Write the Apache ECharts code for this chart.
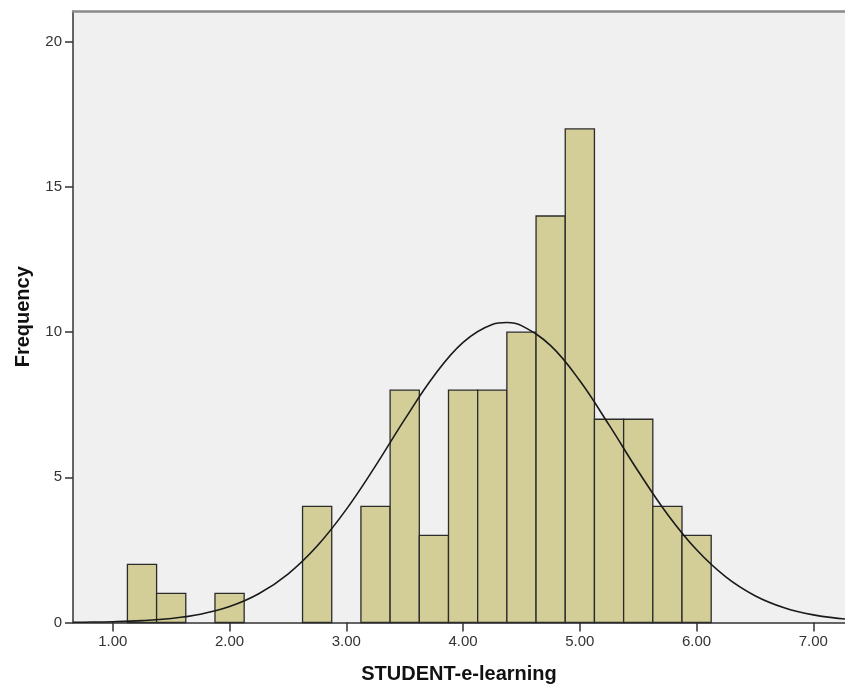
<!DOCTYPE html>
<html>
<head>
<meta charset="utf-8">
<script src="https://cdn.jsdelivr.net/npm/echarts@6/dist/echarts.min.js"></script>
<style>
html,body{margin:0;padding:0;background:#fff;}
#chart{width:845px;height:690px;}
</style>
</head>
<body>
<div id="chart"></div>
<script>
// Histogram bins (edges) and frequencies
const binEdges = [1.125, 1.375, 1.625, 1.875, 2.125, 2.375, 2.625, 2.875, 3.125, 3.375, 3.625,
                  3.875, 4.125, 4.375, 4.625, 4.875, 5.125, 5.375, 5.625, 5.875, 6.125];
const counts   = [2, 1, 0, 1, 0, 0, 4, 0, 4, 8, 3, 8, 8, 10, 14, 17, 7, 7, 4, 3];

// Normal curve, values
const curveX = [0.659, 0.75, 1.0, 1.25, 1.5, 1.75, 2.0, 2.25, 2.5, 2.75, 3.0, 3.25, 3.5, 3.75,
                4.0, 4.25, 4.375, 4.5, 4.75, 5.0, 5.25, 5.5, 5.75, 6.0, 6.25, 6.5, 6.75, 7.0, 7.25, 7.271];
const curveY = [0.008, 0.011, 0.027, 0.063, 0.139, 0.285, 0.549, 0.989, 1.669, 2.635, 3.897, 5.394, 6.994, 8.490,
                9.648, 10.264, 10.33, 10.224, 9.535, 8.324, 6.804, 5.208, 3.731, 2.503, 1.572, 0.924, 0.509, 0.262, 0.127, 0.12];

// Tick labels
const xTicks = [1, 2, 3, 4, 5, 6, 7];
const yTicks = [0, 5, 10, 15, 20];

const xName = 'STUDENT-e-learning';
const yName = 'Frequency';

const barData = [];
for (let i = 0; i < counts.length; i++) {
  if (counts[i] > 0) barData.push([binEdges[i], binEdges[i + 1], counts[i]]);
}
const lineData = curveX.map((x, i) => [x, curveY[i]]);

const chart = echarts.init(document.getElementById('chart'), null, {renderer: 'canvas'});
const font = '"Liberation Sans", Arial, sans-serif';
const xMin = 0.659, xMax = 7.271;

chart.setOption({
  animation: false,
  grid: {
    left: 73, right: 0, top: 11, bottom: 67.5,
    show: true, backgroundColor: '#f0f0f0', borderWidth: 0
  },
  xAxis: [{
    type: 'value', min: xMin, max: xMax,
    name: xName, nameLocation: 'middle', nameGap: 42,
    nameTextStyle: {fontFamily: font, fontWeight: 'bold', fontSize: 20, color: '#111'},
    axisLine: {show: true, onZero: false, lineStyle: {color: '#333', width: 1.5}},
    axisTick: {show: true, length: 9, customValues: xTicks, lineStyle: {color: '#333', width: 1.5}},
    axisLabel: {customValues: xTicks, margin: 12, fontFamily: font, fontSize: 15, color: '#333',
                formatter: v => Number(v).toFixed(2)},
    splitLine: {show: false}
  }, {
    type: 'value', min: xMin, max: xMax, position: 'top',
    axisLine: {show: true, onZero: false, lineStyle: {color: '#8a8a8a', width: 2.5}},
    axisTick: {show: false}, axisLabel: {show: false}, splitLine: {show: false}
  }],
  yAxis: {
    type: 'value', min: 0, max: 21.06,
    name: yName, nameLocation: 'middle', nameGap: 40,
    nameTextStyle: {fontFamily: font, fontWeight: 'bold', fontSize: 20, color: '#111'},
    axisLine: {show: true, lineStyle: {color: '#333', width: 1.5}},
    axisTick: {show: true, length: 8, customValues: yTicks, lineStyle: {color: '#333', width: 1.5}},
    axisLabel: {customValues: yTicks, margin: 11, fontFamily: font, fontSize: 15, color: '#333'},
    splitLine: {show: false}
  },
  series: [
    {
      type: 'custom',
      data: barData,
      renderItem: function (params, api) {
        const p0 = api.coord([api.value(0), api.value(2)]);
        const p1 = api.coord([api.value(1), 0]);
        return {
          type: 'rect',
          shape: {x: p0[0], y: p0[1], width: p1[0] - p0[0], height: p1[1] - p0[1]},
          style: {fill: '#d3ce98', stroke: '#2b2b2b', lineWidth: 1.3}
        };
      },
      z: 2
    },
    {
      type: 'line',
      data: lineData,
      smooth: 0.4,
      showSymbol: false,
      lineStyle: {color: '#1a1a1a', width: 1.6},
      z: 3
    }
  ]
});
</script>
</body>
</html>
